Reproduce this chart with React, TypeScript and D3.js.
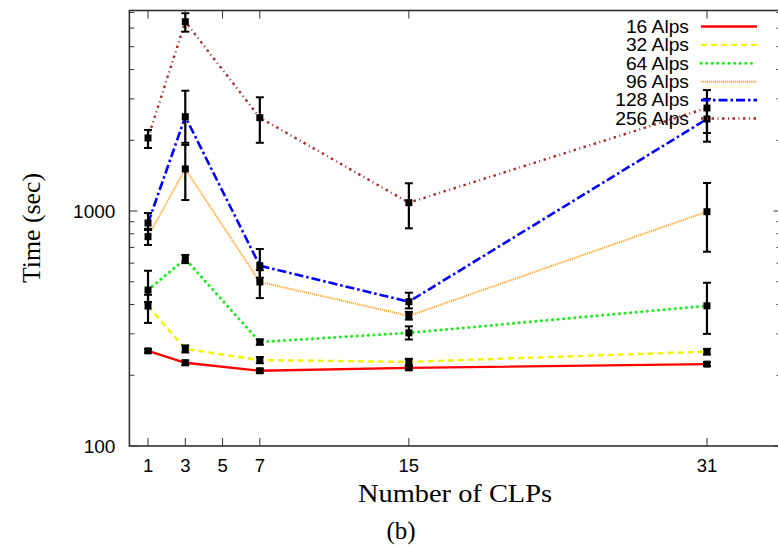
import React, { useEffect, useRef } from "react";
import * as d3 from "d3";

// number of CLPs on the x axis
const clps = [1, 3, 7, 15, 31];
const xTicks = [1, 3, 5, 7, 15, 31];
const yTicks = [100, 1000];

const seriesNames = ["16 Alps", "32 Alps", "64 Alps", "96 Alps", "128 Alps", "256 Alps"];

// time in seconds
const alps16 = [254, 226, 209, 215, 223];
const alps32 = [394, 259, 232, 228, 252];
const alps64 = [461, 625, 277, 303, 395];
const alps96 = [778, 1510, 499, 358, 993];
const alps128 = [889, 2520, 585, 411, 2463];
const alps256 = [2045, 6390, 2495, 1085, 2743];

// error bar low / high
const low16 = [250, 221, 205, 211, 219];
const high16 = [258, 231, 213, 219, 227];
const low32 = [334, 250, 225, 221, 245];
const high32 = [440, 268, 239, 235, 259];
const low64 = [410, 600, 270, 284, 300];
const high64 = [557, 650, 284, 323, 495];
const low96 = [717, 1113, 426, 345, 671];
const high96 = [840, 1910, 560, 372, 1316];
const low128 = [830, 1950, 520, 385, 1972];
const high128 = [980, 3250, 689, 449, 3270];
const low256 = [1854, 5795, 1951, 844, 2148];
const high256 = [2213, 6940, 3047, 1312, 3000];

const sans = "'Liberation Sans', Arial, sans-serif";
const serif = "'Liberation Serif', 'Times New Roman', serif";

const App = () => {
  const ref = useRef<SVGSVGElement>(null);

  useEffect(() => {
    const svg = d3.select(ref.current);
    svg.selectAll("*").remove();

    const width = 778;
    const height = 546;
    const left = 129.4;
    const right = 781.5;
    const top = 10.5;
    const bottom = 446;

    svg.attr("width", width).attr("height", height);

    const x = d3.scaleLinear().domain([0, 35]).range([left, right]);
    const y = d3
      .scaleLog()
      .domain([100, Math.pow(10, 2 + (bottom - top) / 235)])
      .range([bottom, top]);

    const series = [
      { name: seriesNames[0], values: alps16, lo: low16, hi: high16, color: "#ff0000", dash: null, w: 2.4, cap: "butt" },
      { name: seriesNames[1], values: alps32, lo: low32, hi: high32, color: "#f4f400", dash: "6,4", w: 2.4, cap: "butt" },
      { name: seriesNames[2], values: alps64, lo: low64, hi: high64, color: "#1ee81e", dash: "0.1,5.5", w: 3, cap: "round" },
      { name: seriesNames[3], values: alps96, lo: low96, hi: high96, color: "#ffaa33", dash: "1.2,0.8", w: 2, cap: "butt" },
      { name: seriesNames[4], values: alps128, lo: low128, hi: high128, color: "#0000ff", dash: "9,3,2.5,3", w: 2.6, cap: "butt" },
      { name: seriesNames[5], values: alps256, lo: low256, hi: high256, color: "#a52a2a", dash: "2.5,3.5,1,3.5", w: 2.4, cap: "butt" },
    ];

    const axisColor = "#333";

    // frame
    svg
      .append("rect")
      .attr("x", left)
      .attr("y", top)
      .attr("width", right - left)
      .attr("height", bottom - top)
      .attr("fill", "none")
      .attr("stroke", axisColor)
      .attr("stroke-width", 1.6);

    // x ticks bottom + top
    const gx = svg.append("g");
    xTicks.forEach((t) => {
      gx.append("line")
        .attr("x1", x(t)).attr("x2", x(t))
        .attr("y1", bottom).attr("y2", bottom - 8)
        .attr("stroke", axisColor).attr("stroke-width", 1);
      gx.append("line")
        .attr("x1", x(t)).attr("x2", x(t))
        .attr("y1", top).attr("y2", top + 8)
        .attr("stroke", axisColor).attr("stroke-width", 1);
      gx.append("text")
        .attr("x", x(t))
        .attr("y", bottom + 26)
        .attr("text-anchor", "middle")
        .attr("font-family", sans)
        .attr("font-size", 18.5)
        .text(t);
    });

    // y ticks (major + minor), left and right
    const gy = svg.append("g");
    const yMax = y.domain()[1];
    const minor: number[] = [];
    for (let d = 100; d < yMax; d *= 10) {
      for (let k = 2; k <= 9; k++) if (d * k <= yMax) minor.push(d * k);
    }
    minor.forEach((v) => {
      gy.append("line")
        .attr("x1", left).attr("x2", left + 5)
        .attr("y1", y(v)).attr("y2", y(v))
        .attr("stroke", axisColor).attr("stroke-width", 1);
      gy.append("line")
        .attr("x1", right).attr("x2", right - 5)
        .attr("y1", y(v)).attr("y2", y(v))
        .attr("stroke", axisColor).attr("stroke-width", 1);
    });
    yTicks.forEach((v) => {
      gy.append("line")
        .attr("x1", left).attr("x2", left + 8)
        .attr("y1", y(v)).attr("y2", y(v))
        .attr("stroke", axisColor).attr("stroke-width", 1);
      gy.append("line")
        .attr("x1", right).attr("x2", right - 8)
        .attr("y1", y(v)).attr("y2", y(v))
        .attr("stroke", axisColor).attr("stroke-width", 1);
      gy.append("text")
        .attr("x", left - 14)
        .attr("y", y(v))
        .attr("dy", "0.36em")
        .attr("text-anchor", "end")
        .attr("font-family", sans)
        .attr("font-size", 19)
        .text(v);
    });

    // lines
    const line = d3
      .line<number>()
      .x((_, i) => x(clps[i]))
      .y((d) => y(d));

    series.forEach((s) => {
      svg
        .append("path")
        .datum(s.values)
        .attr("d", line)
        .attr("fill", "none")
        .attr("stroke", s.color)
        .attr("stroke-width", s.w)
        .attr("stroke-dasharray", s.dash)
        .attr("stroke-linecap", s.cap);
    });

    // error bars and markers
    const cap = 4;
    series.forEach((s) => {
      const g = svg.append("g");
      s.values.forEach((v, i) => {
        const cx = x(clps[i]);
        g.append("line")
          .attr("x1", cx).attr("x2", cx)
          .attr("y1", y(s.lo[i])).attr("y2", y(s.hi[i]))
          .attr("stroke", "#000").attr("stroke-width", 2.2);
        [s.lo[i], s.hi[i]].forEach((e) => {
          g.append("line")
            .attr("x1", cx - cap).attr("x2", cx + cap)
            .attr("y1", y(e)).attr("y2", y(e))
            .attr("stroke", "#000").attr("stroke-width", 2);
        });
        g.append("rect")
          .attr("x", cx - 3.5)
          .attr("y", y(v) - 3.5)
          .attr("width", 7)
          .attr("height", 7)
          .attr("fill", "#000");
      });
    });

    // legend
    const legend = svg.append("g");
    series.forEach((s, i) => {
      const ly = 26.5 + i * 18.4;
      legend
        .append("text")
        .attr("x", 689)
        .attr("y", ly)
        .attr("dy", "0.36em")
        .attr("text-anchor", "end")
        .attr("font-family", sans)
        .attr("font-size", 17.5)
        .attr("transform", `translate(689,0) scale(1.1,1) translate(-689,0)`)
        .text(s.name);
      legend
        .append("line")
        .attr("x1", 701).attr("x2", 757)
        .attr("y1", ly).attr("y2", ly)
        .attr("stroke", s.color)
        .attr("stroke-width", s.w)
        .attr("stroke-dasharray", s.dash)
        .attr("stroke-linecap", s.cap);
    });

    // axis titles
    svg
      .append("text")
      .attr("transform", `translate(40,228) rotate(-90)`)
      .attr("text-anchor", "middle")
      .attr("font-family", serif)
      .attr("font-size", 25)
      .attr("textLength", 110)
      .attr("lengthAdjust", "spacingAndGlyphs")
      .text("Time (sec)");

    svg
      .append("text")
      .attr("x", 455)
      .attr("y", 502)
      .attr("text-anchor", "middle")
      .attr("font-family", serif)
      .attr("font-size", 25)
      .attr("textLength", 194)
      .attr("lengthAdjust", "spacingAndGlyphs")
      .text("Number of CLPs");

    svg
      .append("text")
      .attr("x", 401)
      .attr("y", 539)
      .attr("text-anchor", "middle")
      .attr("font-family", serif)
      .attr("font-size", 25)
      .text("(b)");
  }, []);

  return (
    <div style={{ position: "absolute", left: 0, top: 0 }}>
      <svg ref={ref} style={{ display: "block" }}></svg>
    </div>
  );
};

export default App;
